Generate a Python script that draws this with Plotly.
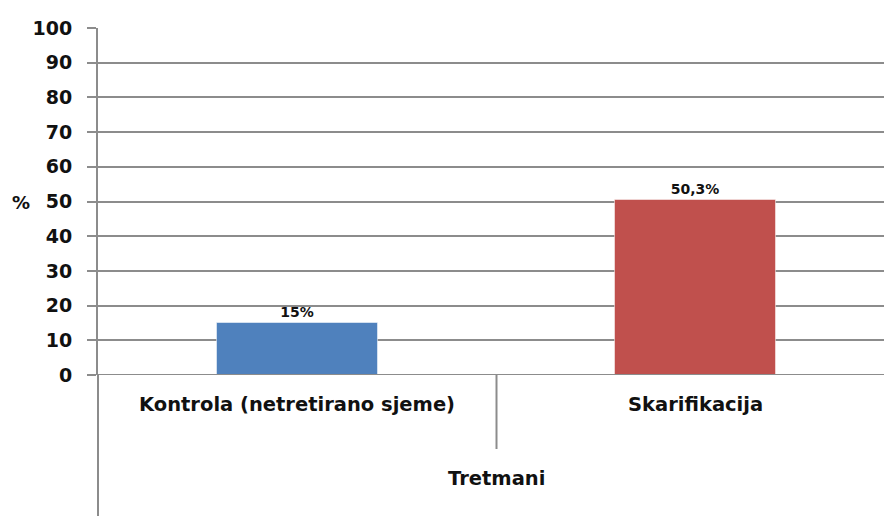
import plotly.graph_objects as go

categories = ["Kontrola (netretirano sjeme)", "Skarifikacija"]
values = [15, 50.3]
value_labels = ["15%", "50,3%"]
bar_colors = ["#4F81BD", "#C0504D"]
y_ticks = [0, 10, 20, 30, 40, 50, 60, 70, 80, 90, 100]
x_title = "Tretmani"
y_title = "%"

W, H = 884, 516
ml, mt = 98, 28
plot_bottom = 375
mb = H - plot_bottom
plot_h = plot_bottom - mt
grid = "#8c8c8c"
font_fam = "DejaVu Sans, Verdana, sans-serif"
txt = "#111111"

xpos = list(range(len(categories)))

fig = go.Figure()
fig.add_trace(go.Bar(
    x=xpos, y=values, width=0.404,
    marker=dict(color=bar_colors, line=dict(color="rgba(255,255,255,0.5)", width=1)),
    text=value_labels, textposition="outside", cliponaxis=False, hoverinfo="skip",
    textfont=dict(family=font_fam, size=14, color=txt, weight="bold"),
))

cat_w = 398.5
right_range = -0.5 + (W - ml) / cat_w

fig.update_layout(
    width=W, height=H,
    margin=dict(l=ml, r=0, t=mt, b=mb, pad=0),
    plot_bgcolor="white", paper_bgcolor="white",
    showlegend=False, bargap=0,
    xaxis=dict(range=[-0.5, right_range], showticklabels=False, showgrid=False,
               zeroline=False, showline=False, ticks=""),
    yaxis=dict(range=[0, 100], tickvals=y_ticks, ticks="outside", ticklen=9,
               tickcolor=grid, tickwidth=2, showgrid=True, gridcolor=grid, gridwidth=2,
               zeroline=False, showline=True, linecolor=grid, linewidth=2,
               tickfont=dict(family=font_fam, size=19, color=txt, weight="bold"),
               ticklabelstandoff=11),
)

# category labels
for i, c in enumerate(categories):
    fig.add_annotation(x=i, y=-(418 - 375) / plot_h, xref="x", yref="paper",
                       text=c, showarrow=False, xanchor="center",
                       font=dict(family=font_fam, size=19.5, color=txt, weight="bold"))

# axis titles
fig.add_annotation(x=(-0.5 + 1.5) / 2, y=-(492 - 375) / plot_h, xref="x", yref="paper",
                   text=x_title, showarrow=False, xanchor="center",
                   font=dict(family=font_fam, size=19.5, color=txt, weight="bold"))
fig.add_annotation(x=-(98 - 21) / (W - ml), y=(100 - (202 - 28) / 3.47) / 100,
                   xref="paper", yref="paper", xanchor="center",
                   text=y_title, showarrow=False,
                   font=dict(family=font_fam, size=18, color=txt, weight="bold"))

# x axis line, extended left to tick
fig.add_shape(type="line", xref="paper", yref="y", x0=-9 / (W - ml), x1=1, y0=0, y1=0,
              line=dict(color=grid, width=2))
# left axis extending down
fig.add_shape(type="line", xref="paper", yref="paper", x0=0, x1=0, y0=0, y1=-mb / plot_h,
              line=dict(color=grid, width=2))
# category divider
fig.add_shape(type="line", xref="x", yref="paper", x0=0.5, x1=0.5, y0=0, y1=-(449 - 375) / plot_h,
              line=dict(color=grid, width=2))

fig.write_html("out.html", config={"displayModeBar": False},
               post_script="document.body.style.margin='0';document.body.style.overflow='hidden';")
